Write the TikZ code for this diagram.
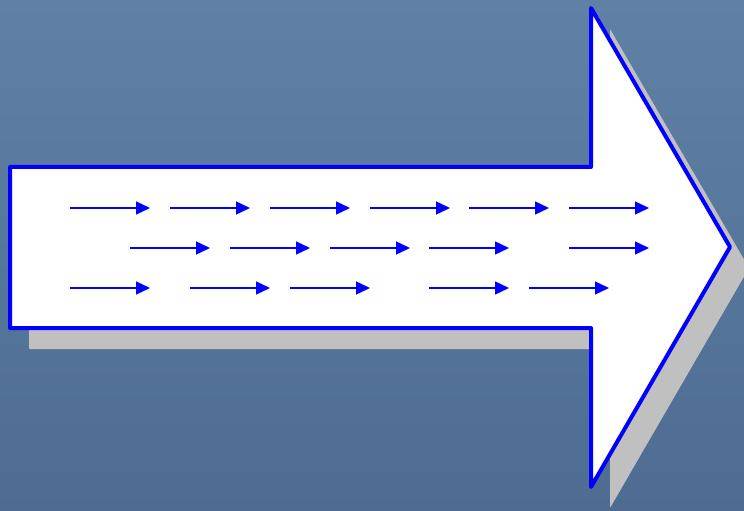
\documentclass[tikz,border=0pt]{standalone}
\usetikzlibrary{arrows.meta, calc}
\definecolor{slatetop}{RGB}{96,128,166}
\definecolor{slatebottom}{RGB}{78,108,146}
\definecolor{flowblue}{RGB}{0,0,255}
\definecolor{shadowgray}{RGB}{192,192,192}

\begin{document}
\begin{tikzpicture}[
        x=1bp, y=-1bp,
        flow/.style={
            draw=flowblue, line width=1.4bp,
            -{Triangle[length=14bp,width=13bp]},
        },
        bigarrow/.style={
            fill=white, draw=flowblue, line width=4bp, line join=round,
        },
    ]
    % background
    \shade[top color=slatetop, bottom color=slatebottom] (0,0) rectangle (744,511);
    \useasboundingbox (0,0) rectangle (744,511);

    % shadow and big arrow
    \fill[shadowgray, rounded corners=1bp, shift={(19,21)}]
        (10,167) -- (591,167) -- (591,8) -- (730,247) -- (591,487) -- (591,328) -- (10,328) -- cycle;
    \draw[bigarrow]
        (10,167) -- (591,167) -- (591,8) -- (730,247) -- (591,487) -- (591,328) -- (10,328) -- cycle;

    % small arrows, one row at a time
    \foreach \x [count=\i] in {70,170,270,370,469,569} {
        \coordinate (r1s\i) at (\x,208);
        \coordinate (r1e\i) at (\x+80,208);
        \draw[flow] (r1s\i) -- (r1e\i);
    }
    \foreach \x [count=\i] in {130,230,330,429,569} {
        \coordinate (r2s\i) at (\x,248);
        \coordinate (r2e\i) at (\x+80,248);
        \draw[flow] (r2s\i) -- (r2e\i);
    }
    \foreach \x [count=\i] in {70,190,290,429,529} {
        \coordinate (r3s\i) at (\x,288);
        \coordinate (r3e\i) at (\x+80,288);
        \draw[flow] (r3s\i) -- (r3e\i);
    }
\end{tikzpicture}
\end{document}
